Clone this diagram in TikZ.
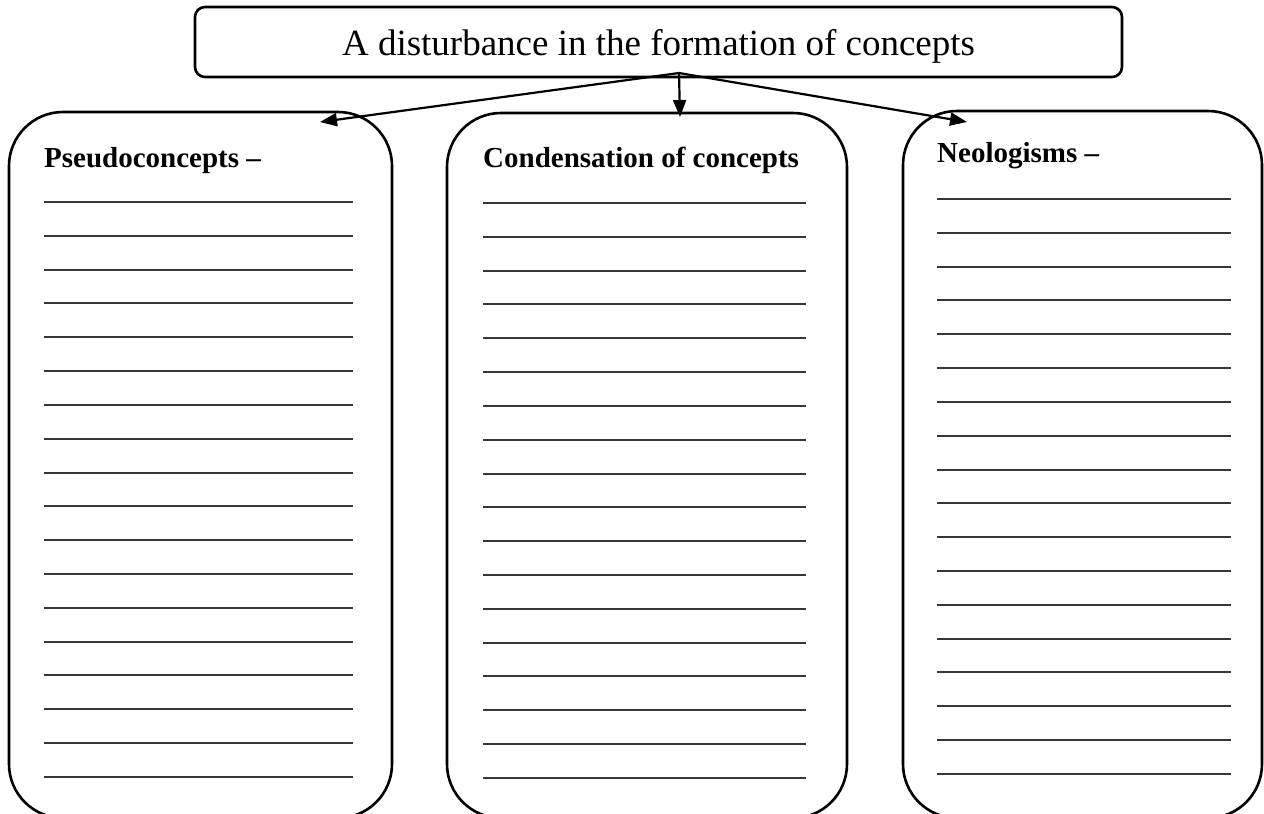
\documentclass[tikz,border=0pt]{standalone}
\usepackage{fontspec}
\setmainfont{Liberation Serif}
\usetikzlibrary{arrows.meta}
\begin{document}
\begin{tikzpicture}[x=1pt,y=-1pt,
  colbox/.style={draw, line width=2.6pt, rounded corners=54pt, inner sep=0pt, outer sep=0pt},
  titlebox/.style={draw, line width=2.6pt, rounded corners=10pt, inner sep=0pt, outer sep=0pt,
    minimum width=927pt, minimum height=70pt, text height=30pt, text depth=4pt,
    font=\fontsize{37}{44}\selectfont},
  head/.style={anchor=base west, inner sep=0pt, font=\bfseries\fontsize{29}{34}\selectfont},
  arr/.style={line width=2.2pt, -{Triangle[length=17pt,width=13pt]}},
  rule/.style={line width=2pt, draw={rgb,255:red,55;green,55;blue,55}}
]
\useasboundingbox (0,0) rectangle (1264,814);
\clip (0,0) rectangle (1264,814);

\node[titlebox] (top) at (658.5,42) {A disturbance in the formation of concepts};

\node[colbox, minimum width=383pt, minimum height=706pt] (left) at (200.5,465) {};
\node[colbox, minimum width=400pt, minimum height=705pt] (mid) at (647,465.5) {};
\node[colbox, minimum width=359pt, minimum height=707pt] (right) at (1082.5,464.5) {};

\node[head] (lhead) at (44,167) {Pseudoconcepts --};
\node[head] (mhead) at (483,167) {Condensation of concepts};
\node[head] (rhead) at (937,162) {Neologisms --};

\foreach \i in {0,...,17} {
  \pgfmathsetmacro{\dy}{round(33.82*\i)}
  \draw[rule] (44,{202+\dy}) -- (353,{202+\dy});
  \draw[rule] (483,{203+\dy}) -- (806,{203+\dy});
  \draw[rule] (937,{199+\dy}) -- (1231,{199+\dy});
}

\coordinate (src) at (679,73);
\coordinate (ltip) at (320,122);
\coordinate (mtip) at (680,117);
\coordinate (rtip) at (967,122);
\draw[arr] (src) -- (ltip);
\draw[arr] (src) -- (mtip);
\draw[arr] (src) -- (rtip);
\end{tikzpicture}
\end{document}
